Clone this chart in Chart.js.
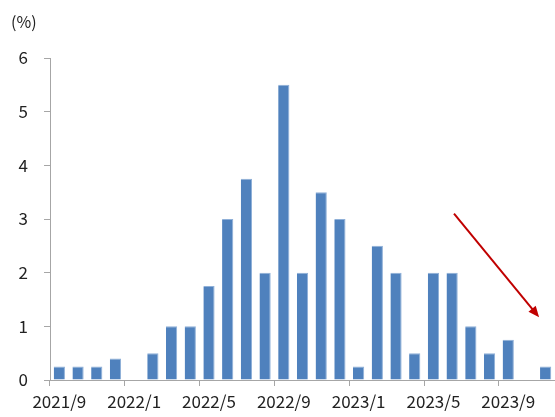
<!DOCTYPE html>
<html>
<head>
<meta charset="utf-8">
<script src="https://cdn.jsdelivr.net/npm/chart.js@4"></script>
<style>
  html, body { margin: 0; padding: 0; background: #fff; }
  #wrap { width: 555px; height: 417px; position: relative; }
</style>
</head>
<body>
<div id="wrap"><canvas id="chart"></canvas></div>
<script>
// Monthly values, 2021/9 .. 2023/11
const months = [
  '2021/9', '2021/10', '2021/11', '2021/12',
  '2022/1', '2022/2', '2022/3', '2022/4', '2022/5', '2022/6', '2022/7', '2022/8',
  '2022/9', '2022/10', '2022/11', '2022/12',
  '2023/1', '2023/2', '2023/3', '2023/4', '2023/5', '2023/6', '2023/7', '2023/8',
  '2023/9', '2023/10', '2023/11'
];
const rates = [
  0.25, 0.25, 0.25, 0.4,
  0, 0.5, 1, 1, 1.75, 3, 3.75, 2,
  5.5, 2, 3.5, 3,
  0.25, 2.5, 2, 0.5, 2, 2, 1, 0.5,
  0.75, 0, 0.25
];
const yTicks = [0, 1, 2, 3, 4, 5, 6];
const unitLabel = '(%)';
// downward trend arrow, in data units (category index, value)
const trendFrom = { x: 21.1, y: 3.1 };
const trendTo = { x: 25.65, y: 1.17 };

const FONT = '"Noto Sans CJK KR", "Noto Sans", sans-serif';
const AXIS_GRAY = '#a6a6a6';

const extras = {
  id: 'extras',
  afterDatasetsDraw(chart) {
    const { ctx, scales } = chart;
    const x = scales.x, y = scales.y;
    const x1 = x.getPixelForValue(trendFrom.x), y1 = y.getPixelForValue(trendFrom.y);
    const x2 = x.getPixelForValue(trendTo.x), y2 = y.getPixelForValue(trendTo.y);
    const ang = Math.atan2(y2 - y1, x2 - x1);
    const head = 12;
    ctx.save();
    ctx.strokeStyle = '#c00000';
    ctx.fillStyle = '#c00000';
    ctx.lineWidth = 2;
    ctx.beginPath();
    ctx.moveTo(x1, y1);
    ctx.lineTo(x2 - Math.cos(ang) * head * 0.8, y2 - Math.sin(ang) * head * 0.8);
    ctx.stroke();
    ctx.beginPath();
    ctx.moveTo(x2, y2);
    ctx.lineTo(x2 - head * Math.cos(ang - 0.4), y2 - head * Math.sin(ang - 0.4));
    ctx.lineTo(x2 - head * Math.cos(ang + 0.4), y2 - head * Math.sin(ang + 0.4));
    ctx.closePath();
    ctx.fill();

    ctx.fillStyle = '#222';
    ctx.font = '16px ' + FONT;
    ctx.textAlign = 'left';
    ctx.textBaseline = 'middle';
    ctx.fillText(unitLabel, 11, 22);
    ctx.restore();
  }
};

new Chart(document.getElementById('chart'), {
  type: 'bar',
  data: {
    labels: months,
    datasets: [{
      data: rates,
      backgroundColor: '#4f81bd',
      borderColor: '#8fb0d8',
      borderWidth: { top: 1, right: 1, left: 0, bottom: 0 },
      categoryPercentage: 1,
      barPercentage: 0.6
    }]
  },
  options: {
    responsive: true,
    maintainAspectRatio: false,
    animation: false,
    layout: { padding: { top: 58, right: 0, left: 0, bottom: 0 } },
    plugins: {
      legend: { display: false },
      tooltip: { enabled: false }
    },
    scales: {
      x: {
        offset: true,
        grid: {
          offset: true,
          drawOnChartArea: false,
          tickLength: 6,
          color: (c) => (c.index % 4 === 0 ? AXIS_GRAY : 'rgba(0,0,0,0)')
        },
        border: { color: AXIS_GRAY },
        ticks: {
          autoSkip: false,
          maxRotation: 0,
          padding: 5,
          color: '#222',
          font: { family: FONT, size: 17 },
          callback: (v, i) => (i % 4 === 0 ? months[i] : '')
        },
        afterFit: (s) => { s.height = 37; }
      },
      y: {
        min: 0,
        max: 6,
        afterBuildTicks: (s) => { s.ticks = yTicks.map(v => ({ value: v })); },
        grid: { drawOnChartArea: false, tickLength: 6, color: AXIS_GRAY },
        border: { color: AXIS_GRAY },
        ticks: {
          padding: 16,
          color: '#222',
          font: { family: FONT, size: 17 }
        },
        afterFit: (s) => { s.width = 50; }
      }
    }
  },
  plugins: [extras]
});
</script>
</body>
</html>
